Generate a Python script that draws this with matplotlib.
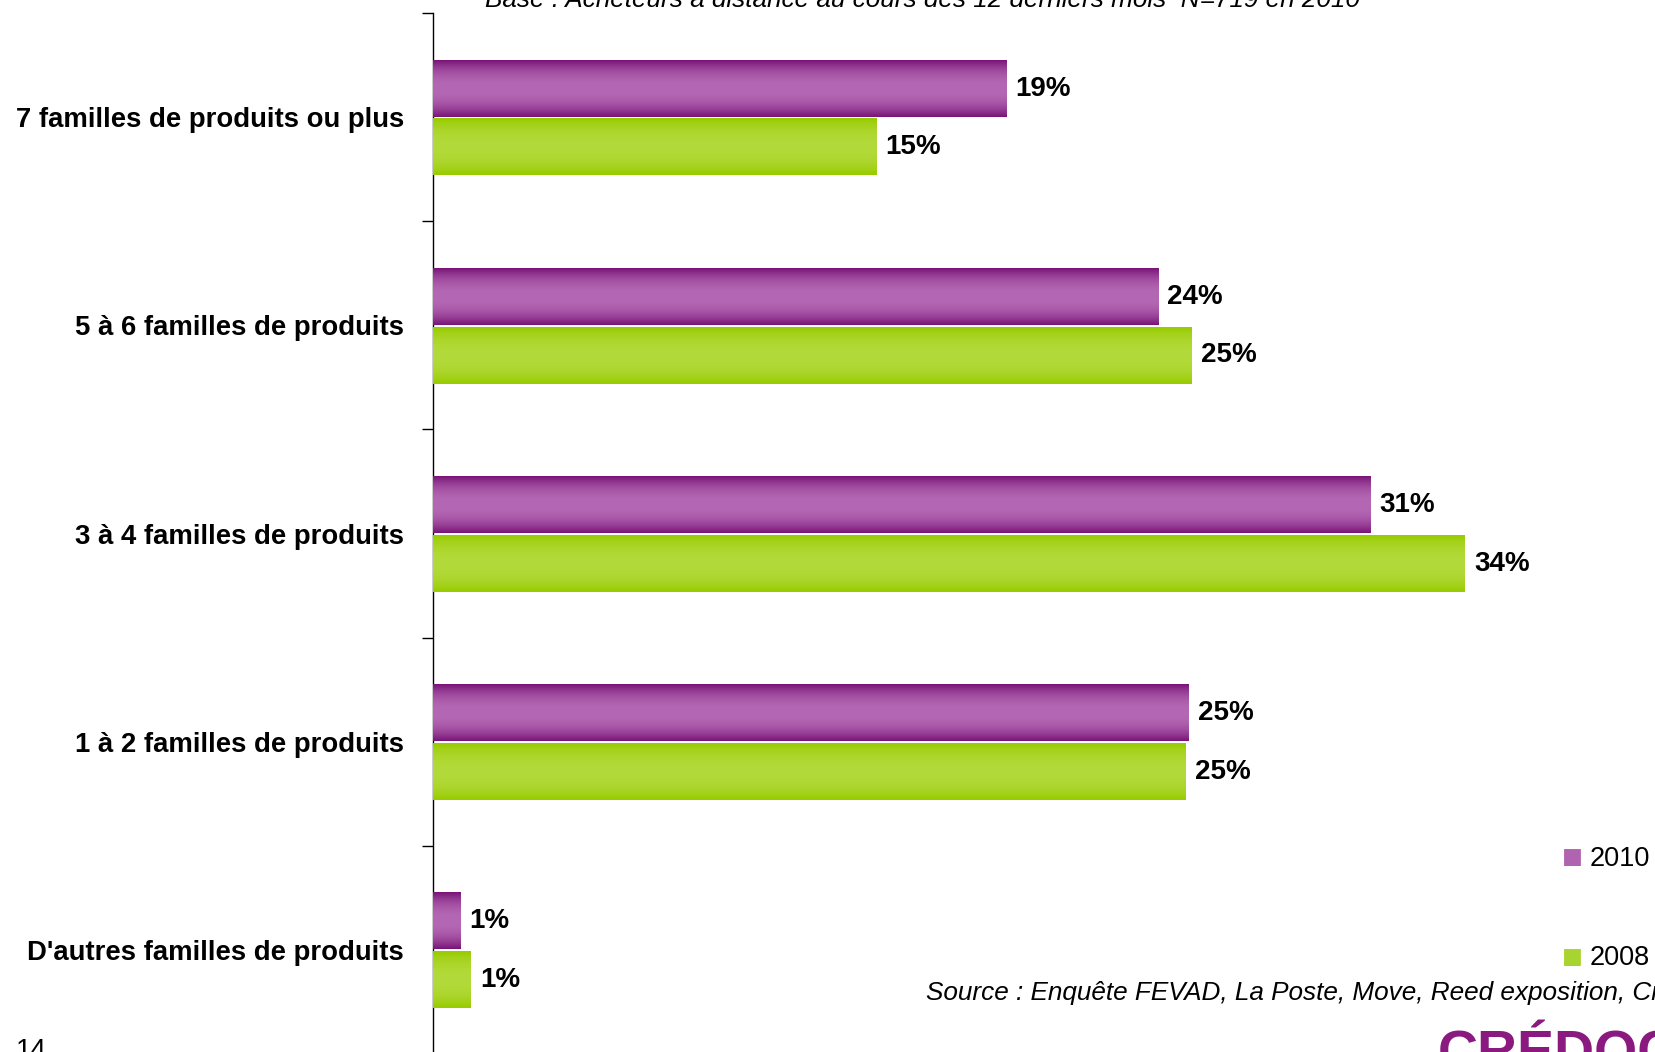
import matplotlib.pyplot as plt
import numpy as np

categories = ["D'autres familles de produits", "1 à 2 familles de produits",
              "3 à 4 familles de produits", "5 à 6 familles de produits",
              "7 familles de produits ou plus"]
vals_2010 = [0.9, 24.9, 30.9, 23.9, 18.9]
vals_2008 = [1.25, 24.8, 34.0, 25.0, 14.6]
labels_2010 = ["1%", "25%", "31%", "24%", "19%"]
labels_2008 = ["1%", "25%", "34%", "25%", "15%"]
series = ["2010", "2008"]

plt.rcParams['font.family'] = ['Liberation Sans', 'DejaVu Sans']

W, H = 1656, 1052
fig = plt.figure(figsize=(W / 100, H / 100), dpi=100)
ax = fig.add_axes([433 / W, -2 / H, 1 - 433 / W, (1054 - 13) / H])

y = np.arange(len(categories))
h = 0.27
b10 = ax.barh(y + 0.137, vals_2010, height=h, color='#b064b0')
b08 = ax.barh(y - 0.145, vals_2008, height=h, color='#aad530')


def gradient(bars, edge, mid):
    edge = np.array(plt.matplotlib.colors.to_rgb(edge))
    mid = np.array(plt.matplotlib.colors.to_rgb(mid))
    t = np.linspace(0, 1, 60)
    w = np.clip(np.abs(t - 0.5) * 2, 0, 1) ** 2.2
    col = mid[None, :] * (1 - w[:, None]) + edge[None, :] * w[:, None]
    img = col[:, None, :]
    for p in bars:
        x0, y0 = p.get_x(), p.get_y()
        ax.imshow(img, extent=[x0, x0 + p.get_width(), y0, y0 + p.get_height()],
                  aspect='auto', zorder=3, interpolation='bilinear')
        p.set_visible(False)


gradient(b10, '#7a1578', '#b468b4')
gradient(b08, '#98cb00', '#b2da3a')

for bars, labs in ((b10, labels_2010), (b08, labels_2008)):
    for p, lab in zip(bars, labs):
        ax.text(p.get_width() + 0.3, p.get_y() + p.get_height() / 2, lab,
                va='center', ha='left', fontsize=20, fontweight='bold')

ax.set_xlim(0, 40.3)
ax.set_ylim(-0.5, len(categories) - 0.5)
ax.set_yticks(y)
ax.set_yticklabels(categories, fontsize=19.8, fontweight='bold')
ax.set_yticks(np.arange(-0.5, len(categories), 1), minor=True)
ax.tick_params(axis='y', which='major', length=0, pad=21)
ax.tick_params(axis='y', which='minor', length=7.6, width=1, direction='out')
ax.set_xticks([])
for s in ['top', 'right', 'bottom']:
    ax.spines[s].set_visible(False)
ax.spines['left'].set_linewidth(1)

# legend
fig.text(1562 / W, 1 - 859 / H, "■", color='#b064b0', fontsize=25,
         va='center', ha='left')
fig.text(1590 / W, 1 - 859 / H, series[0], fontsize=19.5, va='center',
         ha='left')
fig.text(1562 / W, 1 - 958 / H, "■", color='#a8d430', fontsize=25,
         va='center', ha='left')
fig.text(1590 / W, 1 - 958 / H, series[1], fontsize=19.5, va='center',
         ha='left')

fig.text(922 / W, 1 - 7 / H,
         "Base : Acheteurs à distance au cours des 12 derniers mois  N=719 en 2010",
         fontsize=18.8, style='italic', ha='center', va='baseline')
fig.text(926 / W, 1 - 993 / H,
         "Source : Enquête FEVAD, La Poste, Move, Reed exposition, Crédoc",
         fontsize=18.8, style='italic', ha='left', va='center')
fig.text(16 / W, 1 - 1058 / H, "14", fontsize=20, ha='left', va='baseline')
fig.text(1438 / W, 1 - 1030 / H, "CRÉDOC", fontsize=40, fontweight='bold',
         color='#8a1a80', ha='left', va='top')

fig.savefig('out.png', dpi=100)
